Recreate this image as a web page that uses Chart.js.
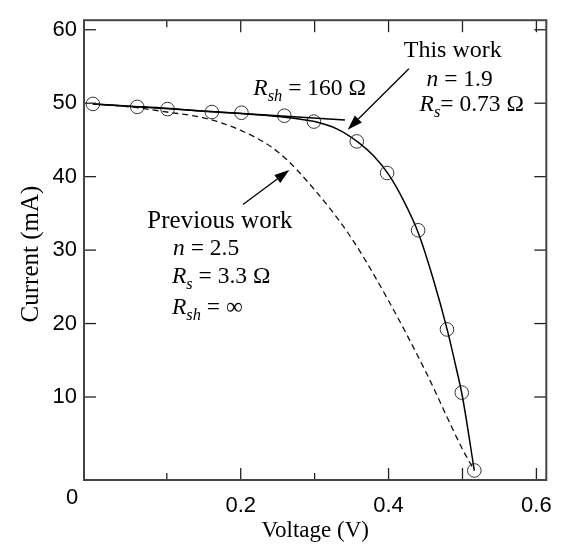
<!DOCTYPE html>
<html>
<head>
<meta charset="utf-8">
<script src="https://cdn.jsdelivr.net/npm/chart.js@4.4.1/dist/chart.umd.min.js"></script>
<style>
  html, body { margin: 0; padding: 0; background: #fff; }
  canvas { display: block; }
</style>
</head>
<body>
<canvas id="chart" width="565" height="546"></canvas>
<script>
// measured cell (circles)
var measV = [0, 0.06, 0.101, 0.161, 0.201, 0.259, 0.299, 0.357, 0.398, 0.44, 0.479, 0.499, 0.516];
var measI = [49.9, 49.5, 49.2, 48.8, 48.7, 48.3, 47.5, 44.8, 40.5, 32.7, 19.2, 10.6, 0.0];

// fit, this work
var fitV = [0, 0.05, 0.1, 0.15, 0.2, 0.25, 0.3, 0.33, 0.36, 0.38, 0.40, 0.42, 0.44, 0.46, 0.48, 0.49, 0.50, 0.516];
var fitI = [49.9, 49.6, 49.3, 48.9, 48.6, 48.2, 47.5, 46.5, 44.6, 42.8, 40.3, 36.8, 32.4, 26.2, 18.9, 14.6, 10.0, 0];

// fit, previous work (dashed)
var prevV = [0, 0.05, 0.1, 0.15, 0.2, 0.25, 0.3, 0.35, 0.4, 0.45, 0.5, 0.516];
var prevI = [49.9, 49.5, 48.8, 48.0, 46.3, 43.4, 38.2, 31.6, 23.1, 13.5, 2.9, 0];

// shunt resistance tangent
var rshV = [0, 0.341];
var rshI = [49.9, 47.7];

var xLabels = [0.2, 0.4, 0.6];
var yLabels = [10, 20, 30, 40, 50, 60];
var xMajor = [0.2, 0.4, 0.5, 0.6];
var xMinor = [0.1, 0.3];
var xTopMajor = [0.2, 0.3, 0.4, 0.5, 0.6];
var xTopMinor = [0.1];

var pts = function (xs, ys) {
    return xs.map(function (v, i) { return { x: v, y: ys[i] }; });
};

// annotations, anchored in data units
var notes = [
    { x: 0.4206, y: 56.3, size: 24, parts: [{ t: 'This work' }] },
    { x: 0.4514, y: 52.3, size: 23.5, parts: [{ t: 'n', it: true }, { t: ' = 1.9' }] },
    { x: 0.442, y: 49.0, size: 23.5, parts: [{ t: 'R', it: true }, { t: 's', it: true, sub: true }, { t: '= 0.73 Ω' }] },
    { x: 0.217, y: 51.15, size: 23.5, parts: [{ t: 'R', it: true }, { t: 'sh', it: true, sub: true }, { t: ' = 160 Ω' }] },
    { x: 0.0737, y: 33.0, size: 25, parts: [{ t: 'Previous work' }] },
    { x: 0.1085, y: 29.4, size: 23.5, parts: [{ t: 'n', it: true }, { t: ' = 2.5' }] },
    { x: 0.107, y: 25.5, size: 23.5, parts: [{ t: 'R', it: true }, { t: 's', it: true, sub: true }, { t: ' = 3.3 Ω' }] },
    { x: 0.107, y: 21.35, size: 23.5, parts: [{ t: 'R', it: true }, { t: 'sh', it: true, sub: true }, { t: ' = ∞' }] }
];
var arrows = [
    { x0: 0.4275, y0: 54.7, x1: 0.3447, y1: 46.4 },
    { x0: 0.203, y0: 36.2, x1: 0.2658, y1: 40.9 }
];

var framePlugin = {
    id: 'frame',
    afterDraw: function (chart) {
        var ctx = chart.ctx, a = chart.chartArea;
        var xs = chart.scales.x, ys = chart.scales.y;
        ctx.save();

        // inward ticks
        ctx.strokeStyle = '#222';
        ctx.lineWidth = 1.3;
        var tick = function (x0, y0, x1, y1) {
            ctx.beginPath(); ctx.moveTo(x0, y0); ctx.lineTo(x1, y1); ctx.stroke();
        };
        xMajor.forEach(function (v) { var p = xs.getPixelForValue(v); tick(p, a.bottom, p, a.bottom - 12); });
        xMinor.forEach(function (v) { var p = xs.getPixelForValue(v); tick(p, a.bottom, p, a.bottom - 7); });
        xTopMajor.forEach(function (v) { var p = xs.getPixelForValue(v); tick(p, a.top, p, a.top + 12); });
        xTopMinor.forEach(function (v) { var p = xs.getPixelForValue(v); tick(p, a.top, p, a.top + 7); });
        yLabels.forEach(function (v) {
            var p = ys.getPixelForValue(v);
            tick(a.left, p, a.left + 12, p);
            tick(a.right, p, a.right - 12, p);
        });

        // frame
        ctx.strokeStyle = '#444';
        ctx.lineWidth = 2;
        ctx.strokeRect(a.left, a.top, a.right - a.left, a.bottom - a.top);

        // origin label
        ctx.fillStyle = '#000';
        ctx.font = '22px "Liberation Sans"';
        ctx.textAlign = 'center';
        ctx.textBaseline = 'alphabetic';
        ctx.fillText('0', a.left - 12, a.bottom + 24);

        // axis titles
        ctx.font = '23px "Liberation Serif"';
        ctx.fillText('Voltage (V)', (a.left + a.right) / 2, 537);
        ctx.save();
        ctx.translate(38, 254);
        ctx.rotate(-Math.PI / 2);
        ctx.font = '25px "Liberation Serif"';
        ctx.fillText('Current (mA)', 0, 0);
        ctx.restore();

        // annotations
        ctx.textAlign = 'left';
        notes.forEach(function (n) {
            var x = xs.getPixelForValue(n.x), y = ys.getPixelForValue(n.y);
            n.parts.forEach(function (p) {
                var sz = p.sub ? n.size * 0.7 : n.size;
                ctx.font = (p.it ? 'italic ' : '') + sz + 'px "Liberation Serif"';
                ctx.fillText(p.t, x, y + (p.sub ? 6 : 0));
                x += ctx.measureText(p.t).width;
            });
        });

        // arrows
        ctx.strokeStyle = '#000';
        ctx.fillStyle = '#000';
        ctx.lineWidth = 1.3;
        arrows.forEach(function (r) {
            var x0 = xs.getPixelForValue(r.x0), y0 = ys.getPixelForValue(r.y0);
            var x1 = xs.getPixelForValue(r.x1), y1 = ys.getPixelForValue(r.y1);
            var ang = Math.atan2(y1 - y0, x1 - x0);
            var hl = 15, hw = 5;
            var bx = x1 - hl * Math.cos(ang), by = y1 - hl * Math.sin(ang);
            tick(x0, y0, bx, by);
            ctx.beginPath();
            ctx.moveTo(x1, y1);
            ctx.lineTo(bx + hw * Math.sin(ang), by - hw * Math.cos(ang));
            ctx.lineTo(bx - hw * Math.sin(ang), by + hw * Math.cos(ang));
            ctx.closePath();
            ctx.fill();
        });
        ctx.restore();
    }
};

var ctx = document.getElementById('chart');
var chart = new Chart(ctx, {
    type: 'scatter',
    data: {
        datasets: [{
            label: 'Previous work',
            data: pts(prevV, prevI),
            showLine: true,
            borderColor: '#111',
            borderWidth: 1.3,
            borderDash: [6, 4],
            pointRadius: 0,
            cubicInterpolationMode: 'monotone'
        }, {
            label: 'This work',
            data: pts(fitV, fitI),
            showLine: true,
            borderColor: '#000',
            borderWidth: 1.5,
            pointRadius: 0,
            cubicInterpolationMode: 'monotone'
        }, {
            label: 'Rsh',
            data: pts(rshV, rshI),
            showLine: true,
            borderColor: '#000',
            borderWidth: 1.5,
            pointRadius: 0
        }, {
            label: 'Measured',
            data: pts(measV, measI),
            showLine: false,
            pointStyle: 'circle',
            pointRadius: 6.8,
            pointBorderWidth: 1,
            pointBorderColor: '#333',
            pointBackgroundColor: 'rgba(0,0,0,0)'
        }]
    },
    options: {
        responsive: false,
        animation: false,
        devicePixelRatio: 1,
        layout: { padding: { top: 13, right: 14, left: 0, bottom: 0 } },
        plugins: {
            legend: { display: false },
            tooltip: { enabled: false }
        },
        scales: {
            x: {
                type: 'linear',
                min: -0.012,
                max: 0.6134,
                grid: { display: false, drawTicks: false },
                border: { display: false },
                afterBuildTicks: function (s) { s.ticks = xLabels.map(function (v) { return { value: v }; }); },
                afterFit: function (s) { s.height = 66; },
                ticks: {
                    color: '#000',
                    padding: 13,
                    maxRotation: 0,
                    font: { family: 'Liberation Sans', size: 22 },
                    callback: function (v) { return v.toFixed(1); }
                }
            },
            y: {
                type: 'linear',
                min: -1.3,
                max: 61.3,
                grid: { display: false, drawTicks: false },
                border: { display: false },
                afterBuildTicks: function (s) { s.ticks = yLabels.map(function (v) { return { value: v }; }); },
                afterFit: function (s) { s.width = 84; },
                ticks: {
                    color: '#000',
                    padding: 7,
                    font: { family: 'Liberation Sans', size: 22 }
                }
            }
        }
    },
    plugins: [framePlugin]
});
</script>
</body>
</html>
